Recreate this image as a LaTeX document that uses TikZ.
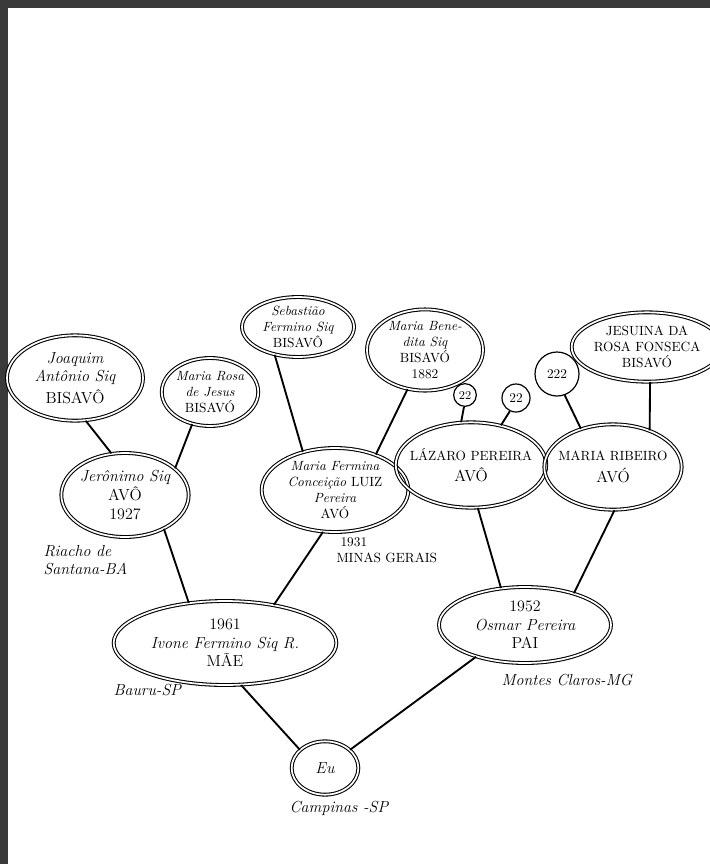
\documentclass[tikz,border=0pt]{standalone}
\usepackage{fontspec}
\usetikzlibrary{shapes.geometric}

\tikzset{every picture/.style={line width=0.75pt}}
\tikzset{
  pessoa/.style={ellipse, draw, double, double distance=1.3pt, line width=0.8pt, inner sep=0pt, align=center, font=\large\itshape},
  interrog/.style={circle, draw, line width=0.9pt, inner sep=0pt, font=\normalsize},
  ligacao/.style={line width=1.4pt},
  lugar/.style={anchor=west, align=left, inner sep=0.75pt, font=\large\itshape}
}

\begin{document}
\begin{tikzpicture}[x=0.75pt,y=0.75pt,yscale=-1,xscale=1]
\useasboundingbox (0,0) rectangle (710,864);
%frame of the scan
\fill [color={rgb, 255:red, 58; green, 58; blue, 58 }] (0,0) rectangle (710,8);
\fill [color={rgb, 255:red, 58; green, 58; blue, 58 }] (0,0) rectangle (8,864);

%Shape: Ellipse -- bisavos
\node [pessoa, minimum width=102pt, minimum height=64pt] (joaquim) at (75,378) {Joaquim\\Antônio Siq\\[2pt]{\upshape BISAVÔ}};
\node [pessoa, minimum width=72pt, minimum height=51pt, font=\normalsize\itshape] (mariarosa) at (210,392) {Maria Rosa\\de Jesus\\{\upshape BISAVÓ}};
\node [pessoa, minimum width=84pt, minimum height=45pt, inner sep=-2pt, font=\normalsize\itshape] (sebastiao) at (298,327) {Sebastião\\Fermino Siq\\{\upshape BISAVÔ}};
\node [pessoa, minimum width=87pt, minimum height=58pt, font=\normalsize\itshape] (mariabenedita) at (425,350) {Maria Bene-\\dita Siq\\{\upshape BISAVÓ}\\{\upshape 1882}};
\node [pessoa, minimum width=90pt, minimum height=52pt, font=\normalsize\upshape] (jesuina) at (647,347) {JESUINA DA\\ROSA FONSECA\\BISAVÓ};

%Shape: Circle -- desconhecidos
\node [interrog, minimum size=17pt, font=\small] (q1) at (465,395) {22};
\node [interrog, minimum size=21pt] (q2) at (516,398) {22};
\node [interrog, minimum size=33pt] (q3) at (557,374) {222};

%Shape: Ellipse -- avos
\node [pessoa, minimum width=90pt, minimum height=63pt] (jeronimo) at (125,495) {Jerônimo Siq\\{\upshape AVÔ}\\{\upshape 1927}};
\node [pessoa, minimum width=110pt, minimum height=63pt, font=\normalsize\itshape] (mariafermina) at (335,490) {Maria Fermina\\Conceição {\upshape LUIZ}\\Pereira\\{\upshape AVÓ}};
\node [pessoa, minimum width=105pt, minimum height=64pt, inner sep=-6pt, font=\normalsize\upshape] (lazaro) at (471,465) {LÁZARO PEREIRA\\[4pt]{\large AVÔ}};
\node [pessoa, minimum width=103pt, minimum height=64pt, inner sep=-6pt, font=\normalsize\upshape] (mariaribeiro) at (613,467) {MARIA RIBEIRO\\[4pt]{\large AVÓ}};

%Shape: Ellipse -- pais
\node [pessoa, minimum width=167pt, minimum height=63pt] (ivone) at (225,643) {{\upshape 1961}\\Ivone Fermino Siq R.\\{\upshape MÃE}};
\node [pessoa, minimum width=129pt, minimum height=57pt] (osmar) at (525,625) {{\upshape 1952}\\Osmar Pereira\\{\upshape PAI}};

%Shape: Ellipse -- eu
\node [pessoa, minimum width=50pt, minimum height=40pt] (eu) at (325,768) {Eu};

%Straight Lines
\draw [ligacao] (joaquim.-76) -- (jeronimo.108);
\draw [ligacao] (mariarosa.-119) -- (jeronimo.28);
\draw [ligacao] (sebastiao.-130) -- (mariafermina.130);
\draw [ligacao] (mariabenedita.-114) -- (mariafermina.41);
\draw [ligacao] (q1.-95) -- (lazaro.103);
\draw [ligacao] (q2.-115) -- (lazaro.53);
\draw [ligacao] (q3.-70) -- (mariaribeiro.130);
\draw [ligacao] (jesuina.-85) -- (mariaribeiro.45);
\draw [ligacao] (jeronimo.-41) -- (ivone.132);
\draw [ligacao] (mariafermina.-106) -- (ivone.38);
\draw [ligacao] (lazaro.-81) -- (osmar.123);
\draw [ligacao] (mariaribeiro.-88) -- (osmar.33);
\draw [ligacao] (ivone.-69) -- (eu.144);
\draw [ligacao] (osmar.-147) -- (eu.36);

% Text Node
\node [lugar] (riacho) at (42,560) {Riacho de\\Santana-BA};
% Text Node
\node [lugar, font=\normalsize\upshape] (minas) at (335,550) {\hspace*{3pt}1931\\MINAS GERAIS};
% Text Node
\node [lugar] (bauru) at (112,690) {Bauru-SP};
% Text Node
\node [lugar] (montes) at (500,680) {Montes Claros-MG};
% Text Node
\node [lugar] (campinas) at (288,808) {Campinas -SP};

\end{tikzpicture}
\end{document}
